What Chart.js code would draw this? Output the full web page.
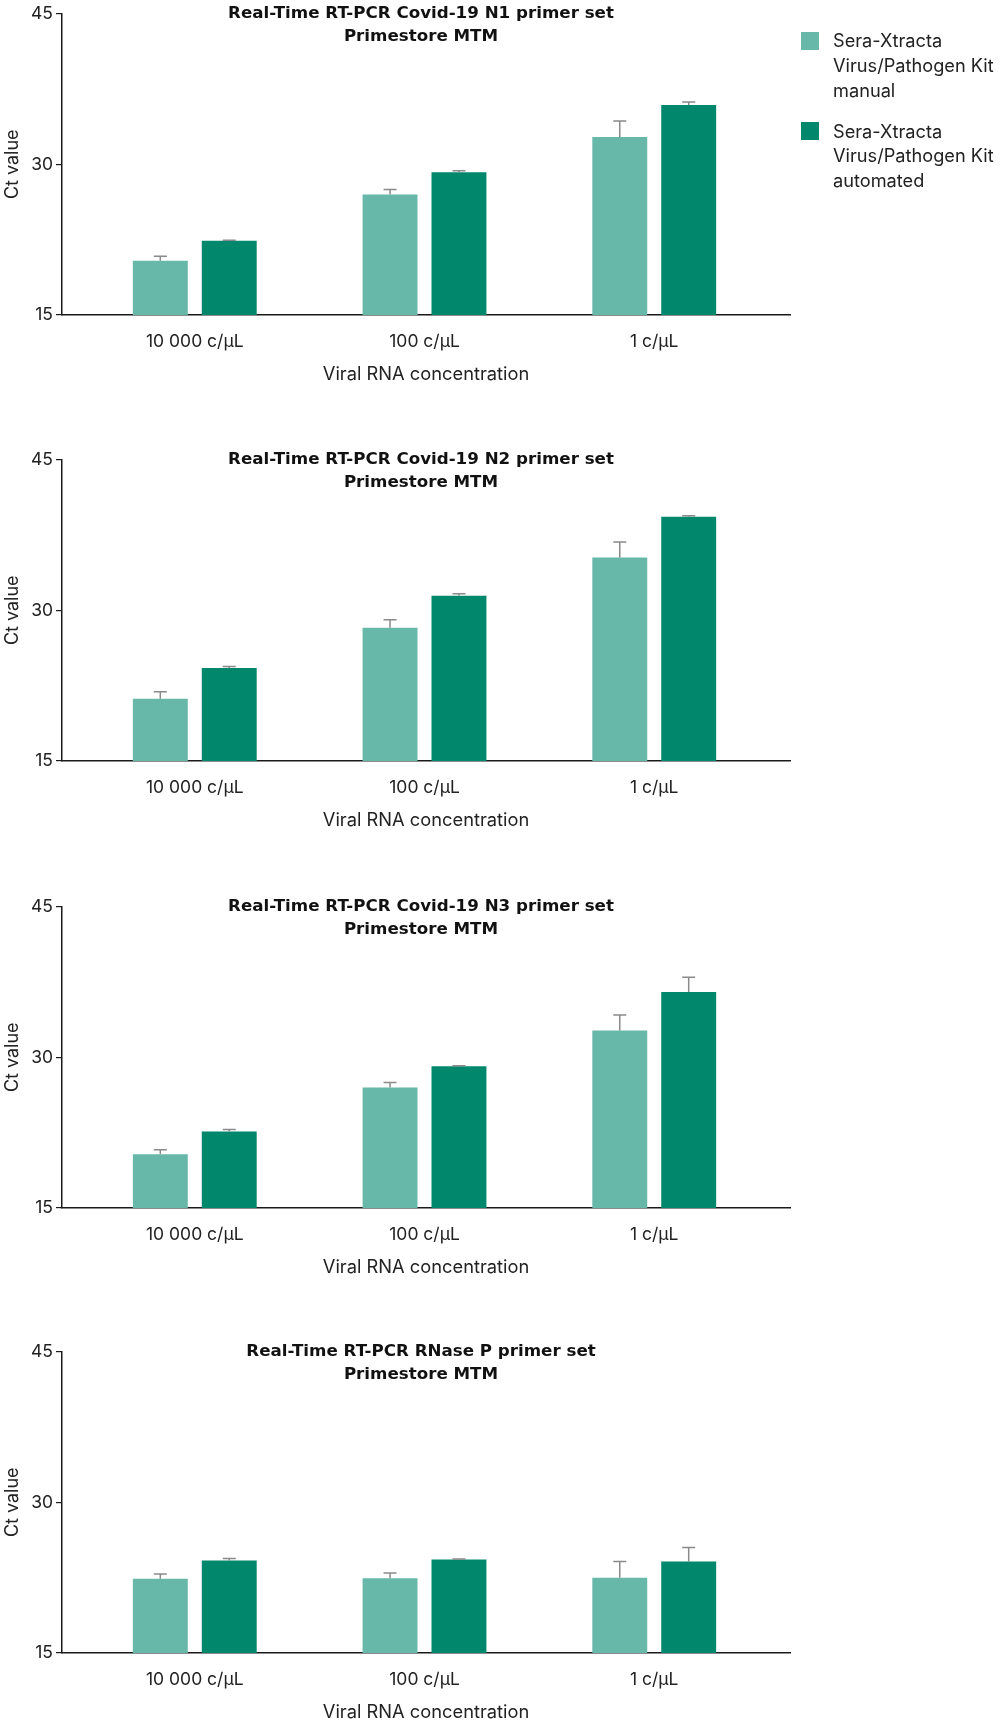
<!DOCTYPE html>
<html>
<head>
<meta charset="utf-8">
<script src="https://cdn.jsdelivr.net/npm/chart.js@4.4.1/dist/chart.umd.min.js"></script>
<style>
  html, body { margin: 0; padding: 0; background: #fff; }
  body { width: 1000px; height: 1724px; position: relative; overflow: hidden; font-family: Inter, "Noto Sans", sans-serif; }
  .panel { position: absolute; left: 0; width: 1000px; height: 385px; }
  .legend { position: absolute; left: 801px; top: 0; width: 199px; color: #222; font-size: 18.2px; line-height: 24.7px; }
  .legend .item { position: absolute; left: 0; width: 199px; }
  .legend .sw { position: absolute; left: 0; width: 18px; height: 18px; }
  .legend .tx { position: absolute; left: 32px; top: 0; width: 170px; white-space: nowrap; }
</style>
</head>
<body>
<div class="panel" style="top:0px"><canvas id="c0" width="1000" height="385"></canvas></div>
<div class="panel" style="top:446px"><canvas id="c1" width="1000" height="385"></canvas></div>
<div class="panel" style="top:892.5px"><canvas id="c2" width="1000" height="385"></canvas></div>
<div class="panel" style="top:1337.5px"><canvas id="c3" width="1000" height="385"></canvas></div>
<div class="legend">
  <div class="item" style="top:28.4px"><div class="sw" style="top:3.6px;background:#67B8A8"></div><div class="tx">Sera-Xtracta<br>Virus/Pathogen Kit<br>manual</div></div>
  <div class="item" style="top:118.7px"><div class="sw" style="top:3.6px;background:#00876C"></div><div class="tx">Sera-Xtracta<br>Virus/Pathogen Kit<br>automated</div></div>
</div>
<script>
// ---- data ----
const categories = ['10 000 c/µL', '100 c/µL', '1 c/µL'];
const seriesNames = ['Sera-Xtracta Virus/Pathogen Kit manual', 'Sera-Xtracta Virus/Pathogen Kit automated'];
const yTicks = [15, 30, 45];

const titleN1 = ['Real-Time RT-PCR Covid-19 N1 primer set', 'Primestore MTM'];
const n1Manual = [20.4, 27.0, 32.7];
const n1ManualErr = [0.45, 0.5, 1.6];
const n1Auto = [22.4, 29.2, 35.9];
const n1AutoErr = [0.05, 0.15, 0.3];

const titleN2 = ['Real-Time RT-PCR Covid-19 N2 primer set', 'Primestore MTM'];
const n2Manual = [21.2, 28.25, 35.25];
const n2ManualErr = [0.7, 0.8, 1.55];
const n2Auto = [24.25, 31.45, 39.3];
const n2AutoErr = [0.15, 0.2, 0.1];

const titleN3 = ['Real-Time RT-PCR Covid-19 N3 primer set', 'Primestore MTM'];
const n3Manual = [20.35, 27.0, 32.65];
const n3ManualErr = [0.45, 0.5, 1.55];
const n3Auto = [22.6, 29.1, 36.5];
const n3AutoErr = [0.2, 0.05, 1.45];

const titleRP = ['Real-Time RT-PCR RNase P primer set', 'Primestore MTM'];
const rpManual = [22.4, 22.45, 22.5];
const rpManualErr = [0.45, 0.5, 1.6];
const rpAuto = [24.2, 24.3, 24.1];
const rpAutoErr = [0.2, 0.05, 1.4];

// ---- styles ----
const colManual = '#67B8A8';
const colAuto = '#00876C';
const FONT = 'Inter, "Noto Sans", sans-serif';
const TITLE_FONT = '"DejaVu Sans", Inter, sans-serif';
const TXT = '#222222';

const errorBarPlugin = {
  id: 'errorBars',
  afterDatasetsDraw(chart) {
    const ctx = chart.ctx;
    const ys = chart.scales.y;
    ctx.save();
    ctx.strokeStyle = '#8a8a8a';
    ctx.lineWidth = 1.5;
    chart.data.datasets.forEach((ds, di) => {
      const meta = chart.getDatasetMeta(di);
      meta.data.forEach((bar, i) => {
        const v = ds.data[i].y;
        const e = ds.errors[i];
        const yTop = ys.getPixelForValue(v + e);
        const yBase = bar.y;
        ctx.beginPath();
        ctx.moveTo(bar.x, yBase);
        ctx.lineTo(bar.x, yTop);
        ctx.moveTo(bar.x - 6.5, yTop);
        ctx.lineTo(bar.x + 6.5, yTop);
        ctx.stroke();
      });
    });
    ctx.restore();
  }
};

const innerTitlePlugin = {
  id: 'innerTitle',
  afterDraw(chart, args, opts) {
    const ctx = chart.ctx;
    const a = chart.chartArea;
    const cx = (a.left + a.right) / 2 - 5;
    ctx.save();
    ctx.fillStyle = '#111';
    ctx.font = 'bold 16.7px ' + TITLE_FONT;
    ctx.textAlign = 'center';
    ctx.textBaseline = 'middle';
    opts.lines.forEach((t, k) => ctx.fillText(t, cx, a.top + k * 23.5));
    ctx.restore();
  }
};

function makeChart(id, title, manual, manualErr, auto, autoErr) {
  new Chart(document.getElementById(id), {
    type: 'bar',
    data: {
      datasets: [
        { label: seriesNames[0], data: manual.map((v, i) => ({ x: i, y: v })), errors: manualErr,
          backgroundColor: colManual, borderWidth: 0, categoryPercentage: 0.6, barPercentage: 0.797 },
        { label: seriesNames[1], data: auto.map((v, i) => ({ x: i, y: v })), errors: autoErr,
          backgroundColor: colAuto, borderWidth: 0, categoryPercentage: 0.6, barPercentage: 0.797 }
      ]
    },
    options: {
      responsive: false,
      animation: false,
      layout: { padding: { top: 12.5, right: 210, bottom: 0, left: 0 } },
      plugins: {
        legend: { display: false },
        tooltip: { enabled: false },
        innerTitle: { lines: title }
      },
      scales: {
        x: {
          type: 'linear',
          offset: false,
          bounds: 'data',
          min: -0.578,
          max: 2.591,
          afterBuildTicks: s => { s.ticks = categories.map((c, i) => ({ value: i })); },
          afterFit: s => { s.height = 70; },
          grid: { display: false, offset: false },
          border: { display: true, color: '#1a1a1a', width: 1.5 },
          ticks: {
            padding: 8,
            color: TXT,
            font: { family: FONT, size: 17.5 },
            maxRotation: 0,
            autoSkip: false,
            callback: v => categories[v]
          },
          title: { display: true, text: 'Viral RNA concentration', color: TXT,
                   font: { family: FONT, size: 18.3 }, padding: { top: 0, bottom: 0 } }
        },
        y: {
          min: 15,
          max: 45,
          afterBuildTicks: s => { s.ticks = yTicks.map(v => ({ value: v })); },
          afterFit: s => { s.width = 62; },
          grid: { display: true, drawOnChartArea: false, drawTicks: true, tickLength: 6, color: '#1a1a1a', lineWidth: 1.2 },
          border: { display: true, color: '#1a1a1a', width: 1.5 },
          ticks: { padding: 3, color: TXT, font: { family: FONT, size: 17.5 } },
          title: { display: true, text: 'Ct value', color: TXT,
                   font: { family: FONT, size: 18 }, padding: { top: 2, bottom: 0 } }
        }
      }
    },
    plugins: [errorBarPlugin, innerTitlePlugin]
  });
}

makeChart('c0', titleN1, n1Manual, n1ManualErr, n1Auto, n1AutoErr);
makeChart('c1', titleN2, n2Manual, n2ManualErr, n2Auto, n2AutoErr);
makeChart('c2', titleN3, n3Manual, n3ManualErr, n3Auto, n3AutoErr);
makeChart('c3', titleRP, rpManual, rpManualErr, rpAuto, rpAutoErr);
</script>
</body>
</html>
